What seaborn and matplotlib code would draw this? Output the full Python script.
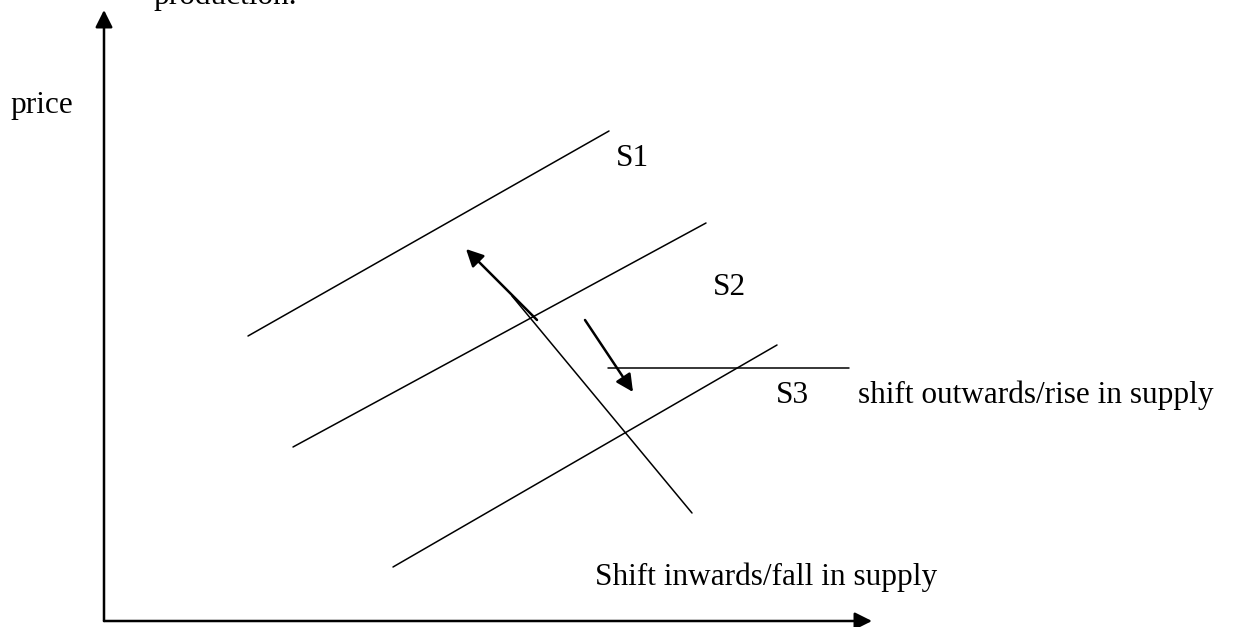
import pandas as pd
import matplotlib.pyplot as plt
import seaborn as sns

# Supply shift diagram (units: quantity on x, price on y)
curve_names = ['S1', 'S2', 'S3', 'flat', 'cross']
curve_x = [[248, 609], [293, 706], [393, 777], [608, 849], [512, 692]]
curve_y = [[291, 496], [180, 404], [60, 282], [259, 259], [331, 114]]

# shift arrows: (start, end)
shift_in = [(537, 307), (466, 378)]
shift_out = [(585, 307), (633, 235)]

# axes arrows
origin = (104, 6)
y_top = 617
x_end = 872

labels = ['S1', 'S2', 'S3']
label_pos = [(616, 461), (713, 332), (776, 224)]
notes = ['shift outwards/rise in supply', 'Shift inwards/fall in supply', 'price', 'production.']
note_pos = [(858, 224), (595, 42), (10, 514), (153, 623)]

rows = []
for name, xs, ys in zip(curve_names, curve_x, curve_y):
    for x, y in zip(xs, ys):
        rows.append({'curve': name, 'quantity': x, 'price': y})
df = pd.DataFrame(rows)

sns.set_style('white')
plt.rcParams['font.family'] = ['Liberation Serif', 'DejaVu Serif']

fig = plt.figure(figsize=(12.35, 6.27), dpi=100)
ax = fig.add_axes([0, 0, 1, 1])

sns.lineplot(data=df, x='quantity', y='price', units='curve', estimator=None,
             color='black', linewidth=1.1, sort=False, ax=ax)

arrow = dict(arrowstyle='-|>', color='black', lw=1.8, mutation_scale=26,
             shrinkA=0, shrinkB=0)
ax.annotate('', xy=(origin[0], y_top), xytext=origin, arrowprops=arrow)
ax.annotate('', xy=(x_end, origin[1]), xytext=(origin[0], origin[1]), arrowprops=arrow)
ax.annotate('', xy=shift_in[1], xytext=shift_in[0], arrowprops=arrow)
ax.annotate('', xy=shift_out[1], xytext=shift_out[0], arrowprops=arrow)

for txt, (x, y) in zip(labels, label_pos):
    ax.text(x, y, txt, fontsize=22.5, color='black', ha='left', va='baseline')
for txt, (x, y) in zip(notes, note_pos):
    ax.text(x, y, txt, fontsize=22.5, color='black', ha='left', va='baseline')

ax.set_xlim(0, 1235)
ax.set_ylim(0, 627)
ax.axis('off')

fig.savefig('out.png', dpi=100)
